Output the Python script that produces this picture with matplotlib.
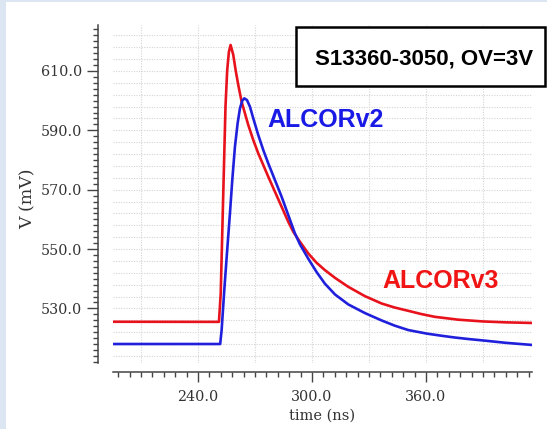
import matplotlib
matplotlib.use("Agg")
import matplotlib.pyplot as plt
from matplotlib.patches import Rectangle
from matplotlib.ticker import MultipleLocator, FormatStrFormatter

# ---- data ----
t_v3 = [195.5, 251.05, 251.99, 252.7, 253.6, 254.5, 255.4, 256.3, 257.19, 258.60,
        259.82, 261.23, 262.98, 264.74, 266.49, 269.12, 271.75, 274.39, 277.02,
        280.53, 284.04, 287.54, 290.18, 293.68, 298.07, 302.46, 306.84, 312.11,
        319.12, 327.89, 336.67, 343.5, 350.70, 357.5, 364.74, 377.0, 390.0,
        402.0, 415.5]
v_v3 = [525.5, 525.46, 535.0, 553.0, 575.5, 598.0, 610.3, 616.5, 618.77, 615.40,
        610.34, 605.28, 599.66, 595.72, 591.79, 586.73, 582.23, 578.30, 574.36,
        569.30, 564.24, 559.18, 555.81, 552.44, 548.51, 545.36, 542.89, 540.30,
        537.27, 534.12, 531.65, 530.3, 529.18, 528.1, 527.15, 526.2, 525.6,
        525.3, 525.1]

t_v2 = [195.5, 251.7, 252.46, 253.86, 255.26, 256.84, 258.07, 259.47, 260.88,
        262.11, 263.33, 264.39, 265.79, 267.37, 269.12, 271.75, 274.39, 277.02,
        280.53, 284.04, 287.54, 291.05, 293.68, 298.07, 302.46, 306.84, 312.11,
        319.12, 327.89, 336.67, 343.5, 350.70, 360.5, 368.0, 375.0, 382.0,
        390.0, 402.0, 415.5]
v_v2 = [518.0, 518.0, 522.65, 536.14, 548.50, 562.00, 573.24, 584.48, 592.35,
        597.41, 600.0, 600.78, 600.22, 597.97, 594.03, 588.41, 583.35, 578.85,
        573.24, 567.62, 561.44, 555.25, 551.60, 546.74, 542.24, 538.31, 534.71,
        531.34, 528.42, 525.94, 524.2, 522.7, 521.5, 520.8, 520.2, 519.7,
        519.2, 518.4, 517.7]

x_ticks = [240, 300, 360]
y_ticks = [530, 550, 570, 590, 610]
x_grid = [210, 240, 270, 300, 330, 360, 390]
y_grid = list(range(514, 623, 4))

label_v2 = "ALCORv2"
label_v3 = "ALCORv3"
box_text = "S13360-3050, OV=3V"

W, H = 547, 429
fig = plt.figure(figsize=(W / 100, H / 100), dpi=100)
fig.patch.set_facecolor("#dce6f2")
fig.patches.append(Rectangle((6 / W, 0), 1 - 6 / W, 1 - 2 / H,
                             transform=fig.transFigure, facecolor="white",
                             edgecolor="none", zorder=-10))

ax = fig.add_axes([113 / W, 1 - 363 / H, (532 - 113) / W, (363 - 25) / H])
ax.set_zorder(1)
ax.set_facecolor("none")
ax.set_xlim(195.3, 415.8)
ax.set_ylim(511.6, 625.5)

for g in x_grid:
    ax.axvline(g, color="#d4d4d4", lw=0.8, ls=(0, (1, 1.3)), zorder=1)
for g in y_grid:
    ax.axhline(g, color="#d4d4d4", lw=0.8, ls=(0, (1, 1.3)), zorder=1)

ax.plot(t_v3, v_v3, color="#e8121c", lw=1.9, zorder=3, solid_joinstyle="round")
ax.plot(t_v2, v_v2, color="#2020dc", lw=1.9, zorder=4, solid_joinstyle="round")

for s in ["top", "right"]:
    ax.spines[s].set_visible(False)
ax.spines["left"].set_position(("outward", 10.8))
ax.spines["bottom"].set_position(("outward", 6.5))
for s in ["left", "bottom"]:
    ax.spines[s].set_color("#444444")
    ax.spines[s].set_linewidth(1.1)

ax.set_xticks(x_ticks)
ax.set_yticks(y_ticks)
ax.xaxis.set_minor_locator(MultipleLocator(6))
ax.yaxis.set_minor_locator(MultipleLocator(2))
ax.xaxis.set_major_formatter(FormatStrFormatter("%.1f"))
ax.yaxis.set_major_formatter(FormatStrFormatter("%.1f"))
ax.tick_params(which="major", direction="out", color="#444444", width=1.0,
               labelcolor="#333333", labelsize=10.3)
ax.tick_params(axis="y", which="major", length=8, pad=3.5)
ax.tick_params(axis="x", which="major", length=7, pad=6)
ax.tick_params(which="minor", direction="out", color="#444444", width=1.0, length=3.4)
for lab in ax.get_xticklabels() + ax.get_yticklabels():
    lab.set_family("DejaVu Serif")

ax.set_xlabel("time (ns)", family="DejaVu Serif", fontsize=10.5, color="#333333",
              labelpad=3)
ax.set_ylabel("V (mV)", family="DejaVu Serif", fontsize=12.5, color="#333333")
ax.yaxis.set_label_coords(37 / W, 1 - 199 / H, transform=fig.transFigure)

ax.text(276.3, 591.2, label_v2, color="#1a1ae6", fontsize=18, fontweight="bold",
        family="Liberation Sans", va="baseline", ha="left", zorder=5)
ax.text(336.8, 537.0, label_v3, color="#f01414", fontsize=18, fontweight="bold",
        family="Liberation Sans", va="baseline", ha="left", zorder=5)

fig.patches.append(Rectangle((296 / W, 1 - 86 / H), (545 - 296) / W, (86 - 27) / H,
                             transform=fig.transFigure, facecolor="white",
                             edgecolor="black", lw=1.8, zorder=6))
fig.text(424 / W, 1 - 65 / H, box_text, fontsize=16, fontweight="bold",
         family="Liberation Sans", ha="center", va="baseline", color="black",
         zorder=7)

fig.savefig("out.png", dpi=100)
